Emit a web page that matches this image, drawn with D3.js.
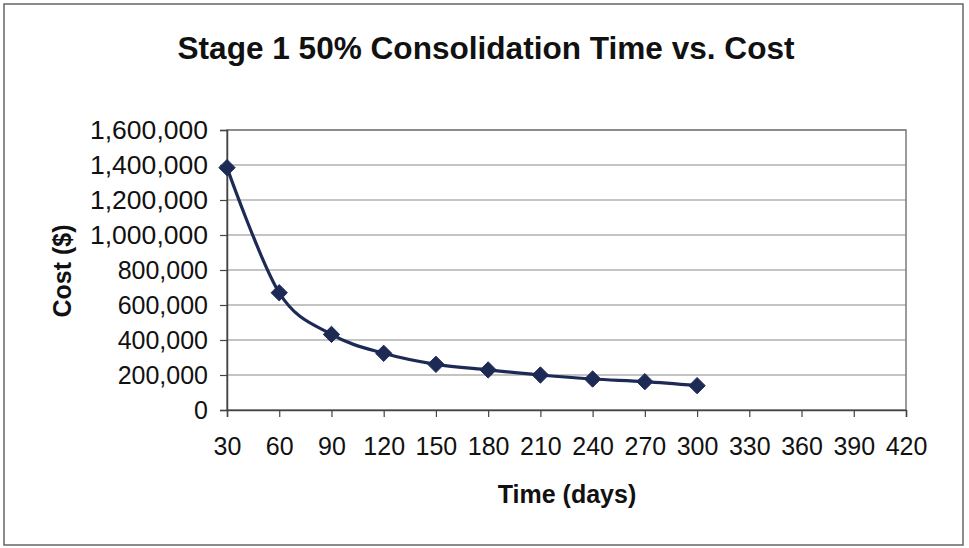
<!DOCTYPE html>
<html>
<head>
<meta charset="utf-8">
<script src="https://cdn.jsdelivr.net/npm/d3@7"></script>
<style>
  body { margin: 0; background: #fff; }
  svg text { font-family: "Liberation Sans", Arial, sans-serif; fill: #111; }
</style>
</head>
<body>
<svg id="chart" width="969" height="548"></svg>
<script>
// time in days and cost in dollars
var days = [30, 60, 90, 120, 150, 180, 210, 240, 270, 300];
var cost = [1385000, 670000, 432000, 324000, 261000, 229000, 200000, 177000, 162000, 139000];
var xTicks = [30, 60, 90, 120, 150, 180, 210, 240, 270, 300, 330, 360, 390, 420];
var yTicks = [0, 200000, 400000, 600000, 800000, 1000000, 1200000, 1400000, 1600000];

var data = days.map(function(d, i) { return {day: d, cost: cost[i]}; });

var svg = d3.select("#chart"),
    margin = {top: 130, right: 63, bottom: 138, left: 227},
    width = +svg.attr("width") - margin.left - margin.right,
    height = +svg.attr("height") - margin.top - margin.bottom;

// outer chart border
svg.append("rect")
    .attr("x", 4).attr("y", 4)
    .attr("width", 959).attr("height", 541)
    .attr("fill", "none")
    .attr("stroke", "#666")
    .attr("stroke-width", 1.5);

svg.append("text")
    .attr("x", 486).attr("y", 59)
    .attr("text-anchor", "middle")
    .style("font-size", "31px")
    .style("font-weight", "bold")
    .attr("textLength", 617)
    .attr("lengthAdjust", "spacingAndGlyphs")
    .text("Stage 1 50% Consolidation Time vs. Cost");

var g = svg.append("g")
    .attr("transform", "translate(" + margin.left + "," + margin.top + ")");

var x = d3.scaleLinear().domain([30, 420]).range([0, width]);
var y = d3.scaleLinear().domain([0, 1600000]).range([height, 0]);

// gridlines
g.append("g")
    .selectAll("line")
    .data(yTicks.slice(1))
    .enter().append("line")
    .attr("x1", 0).attr("x2", width)
    .attr("y1", function(d) { return y(d); })
    .attr("y2", function(d) { return y(d); })
    .attr("stroke", "#8a8a8a")
    .attr("stroke-width", 1.2);

// plot frame
g.append("rect")
    .attr("width", width).attr("height", height)
    .attr("fill", "none")
    .attr("stroke", "#7a7a7a")
    .attr("stroke-width", 1.5);

var yAxis = g.append("g")
    .attr("class", "axis axis--y")
    .call(d3.axisLeft(y).tickValues(yTicks).tickSize(7).tickPadding(12)
        .tickFormat(d3.format(",")));

var xAxis = g.append("g")
    .attr("class", "axis axis--x")
    .attr("transform", "translate(0," + height + ")")
    .call(d3.axisBottom(x).tickValues(xTicks).tickSize(7).tickPadding(20));

[xAxis, yAxis].forEach(function(a) {
    a.select(".domain").attr("stroke", "#444").attr("stroke-width", 1.5);
    a.selectAll(".tick line").attr("stroke", "#444").attr("stroke-width", 1.2);
    a.selectAll(".tick text").style("font-size", "25px").attr("fill", "#111")
        .style("font-family", "'Liberation Sans', Arial, sans-serif");
});
// scanned labels look slightly condensed
yAxis.selectAll(".tick text").attr("textLength", 118).attr("lengthAdjust", "spacingAndGlyphs")
    .filter(function(d) { return d < 1000000; }).attr("textLength", null);

svg.append("text")
    .attr("x", 567).attr("y", 503)
    .attr("text-anchor", "middle")
    .style("font-size", "25px")
    .style("font-weight", "bold")
    .text("Time (days)");

svg.append("text")
    .attr("transform", "translate(71,271) rotate(-90)")
    .attr("text-anchor", "middle")
    .style("font-size", "25px")
    .style("font-weight", "bold")
    .text("Cost ($)");

var line = d3.line()
    .curve(d3.curveCatmullRom.alpha(0))
    .x(function(d) { return x(d.day); })
    .y(function(d) { return y(d.cost); });

g.append("path")
    .datum(data)
    .attr("class", "line")
    .attr("fill", "none")
    .attr("stroke", "#1c2a55")
    .attr("stroke-width", 3.2)
    .attr("d", line);

g.selectAll(".pt")
    .data(data)
    .enter().append("path")
    .attr("class", "pt")
    .attr("transform", function(d) { return "translate(" + x(d.day) + "," + y(d.cost) + ")"; })
    .attr("d", d3.symbol().type(d3.symbolDiamond2).size(170))
    .attr("fill", "#1c2a55")
    .attr("stroke", "#1c2a55")
    .attr("stroke-width", 1);
</script>
</body>
</html>
